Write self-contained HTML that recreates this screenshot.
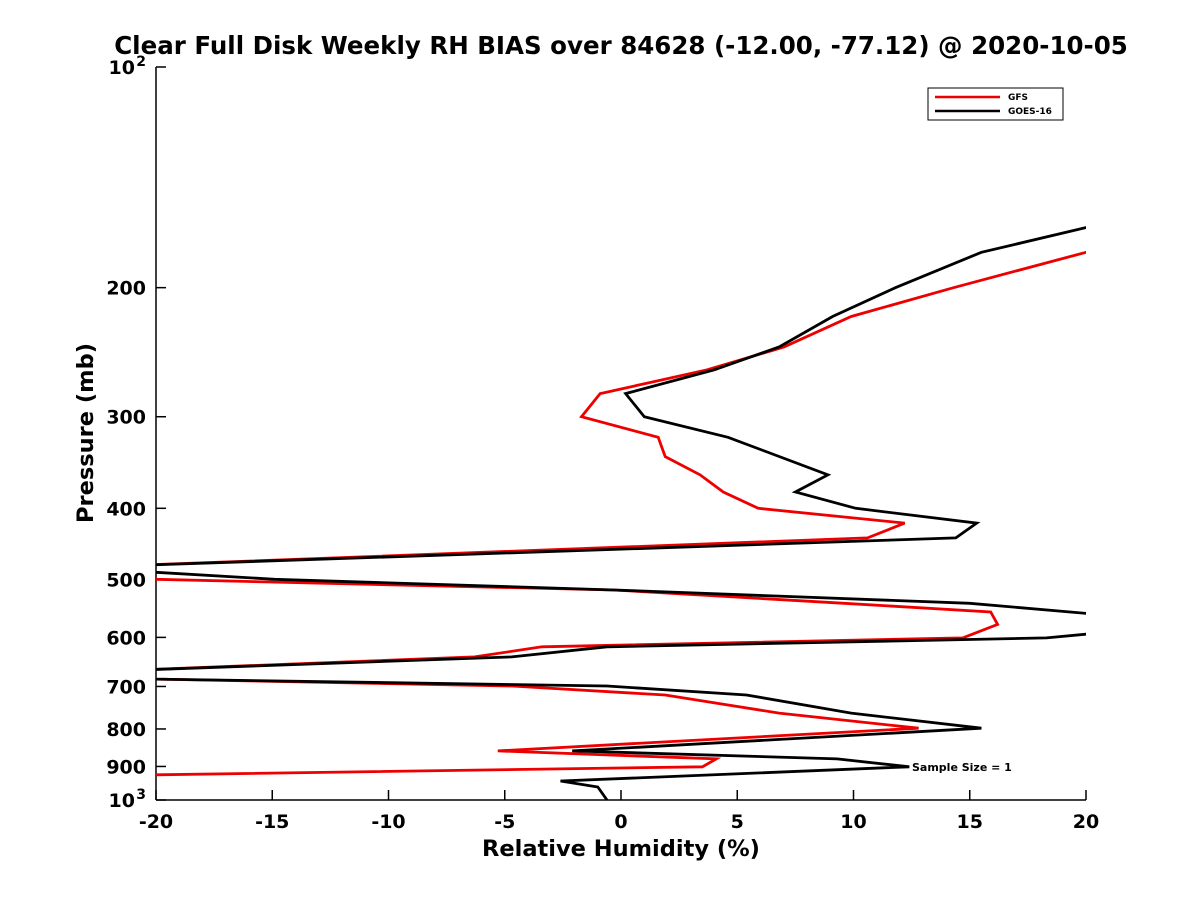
<!DOCTYPE html>
<html><head><meta charset="utf-8"><style>
body{margin:0;background:#fff;font-family:"Liberation Sans",sans-serif}
svg text{font-family:"DejaVu Sans","Liberation Sans",sans-serif;font-weight:bold}
</style></head><body>
<svg id="chart" width="1200" height="900" xmlns="http://www.w3.org/2000/svg">
<defs><clipPath id="clip"><rect x="156" y="67" width="930" height="733"/></clipPath></defs>
<text x="621" y="54" font-size="24.5" text-anchor="middle">Clear Full Disk Weekly RH BIAS over 84628 (-12.00, -77.12) @ 2020-10-05</text>
<g id="axes"></g>
<g id="series" clip-path="url(#clip)"></g>
<text x="621" y="856" font-size="22.5" text-anchor="middle">Relative Humidity (%)</text>
<text transform="translate(93,433) rotate(-90)" font-size="22.5" text-anchor="middle">Pressure (mb)</text>
<text x="912" y="771" font-size="11">Sample Size = 1</text>
<g>
<rect x="928" y="88" width="135" height="32" fill="#fff" stroke="#000" stroke-width="1"/>
<line x1="935" y1="97" x2="1000" y2="97" stroke="#e00" stroke-width="2.5"/>
<text x="1008" y="100" font-size="9">GFS</text>
<line x1="935" y1="111" x2="1000" y2="111" stroke="#000" stroke-width="2.5"/>
<text x="1008" y="114" font-size="9">GOES-16</text>
</g>
</svg>
<script>
const xTicks=[-20,-15,-10,-5,0,5,10,15,20];
const yTicks=[100,200,300,400,500,600,700,800,900,1000];
const yTickLabels=["10","200","300","400","500","600","700","800","900","10"];
const yTickSup=["2","","","","","","","","","3"];
const goesP=[160,179,200,219,241,259,279,300,320,360,380,400,419,439,480,489,500,517,539,560,590,601,618,638,667,684,699,719,761,798,857,879,901,942,960,1000];
const goesRH=[22,15.5,11.8,9.1,6.8,4.0,0.2,1.0,4.6,8.9,7.5,10.1,15.3,14.4,-22,-20,-14.9,-0.3,15.0,21,21,18.3,-0.6,-4.7,-22,-20,-0.6,5.4,9.9,15.5,-2.1,9.3,12.4,-2.6,-1.0,-0.6];
const gfsP=[170,179,200,219,241,259,279,300,320,340,360,380,400,419,439,480,492,500,517,539,554,576,601,618,638,667,684,699,719,761,798,857,879,901,924,930];
const gfsRH=[23,20,14.3,9.9,7.0,3.7,-0.9,-1.7,1.6,1.9,3.4,4.4,5.9,12.2,10.6,-22,-22,-20,-0.3,9.6,15.9,16.2,14.7,-3.4,-6.3,-22,-20,-4.7,1.9,6.8,12.8,-5.3,4.1,3.5,-20,-25];
const X0=156,X1=1086,Y0=67,Y1=800;
const xs=v=>X0+(v+20)/40*(X1-X0);
const ys=p=>Y0+(Math.log10(p)-2)*(Y1-Y0);
const NS="http://www.w3.org/2000/svg";
function mk(tag,attrs,parent){const e=document.createElementNS(NS,tag);for(const k in attrs)e.setAttribute(k,attrs[k]);parent.appendChild(e);return e;}
const axes=document.getElementById('axes');
const ya=mk('line',{x1:X0,y1:Y0,x2:X0,y2:Y1,stroke:'#000','stroke-width':1.5},axes);


const xa=mk('line',{x1:X0,y1:Y1,x2:X1,y2:Y1,stroke:'#000','stroke-width':1.5},axes);


xTicks.forEach(v=>{
  const t=mk('line',{x1:xs(v),y1:Y1,x2:xs(v),y2:Y1-10,stroke:'#000','stroke-width':1.5},axes);
  
  
  const l=mk('text',{x:xs(v),y:Y1+28,'font-size':19,'text-anchor':'middle'},axes);
  l.textContent=v;
  
  
});
yTicks.forEach((p,i)=>{
  const t=mk('line',{x1:X0,y1:ys(p),x2:X0+10,y2:ys(p),stroke:'#000','stroke-width':1.5},axes);
  
  
  const sup=yTickSup[i];
  const l=mk('text',{x:X0-10-(sup?11:0),y:ys(p)+7,'font-size':19,'text-anchor':'end'},axes);
  l.textContent=yTickLabels[i];
  
  
  if(sup){
    const s=mk('text',{x:X0-10,y:ys(p)-1,'font-size':14,'text-anchor':'end'},axes);
    s.textContent=sup;
    
    
  }
});
const ser=document.getElementById('series');
function line(P,R,color,name){
  const pts=P.map((p,i)=>xs(R[i]).toFixed(1)+','+ys(p).toFixed(1)).join(' ');
  const e=mk('polyline',{points:pts,fill:'none',stroke:color,'stroke-width':2.8,'stroke-linejoin':'miter'},ser);
  
  
}
line(gfsP,gfsRH,'#e00','gfs-line');
line(goesP,goesRH,'#000','goes16-line');
</script>
</body></html>
